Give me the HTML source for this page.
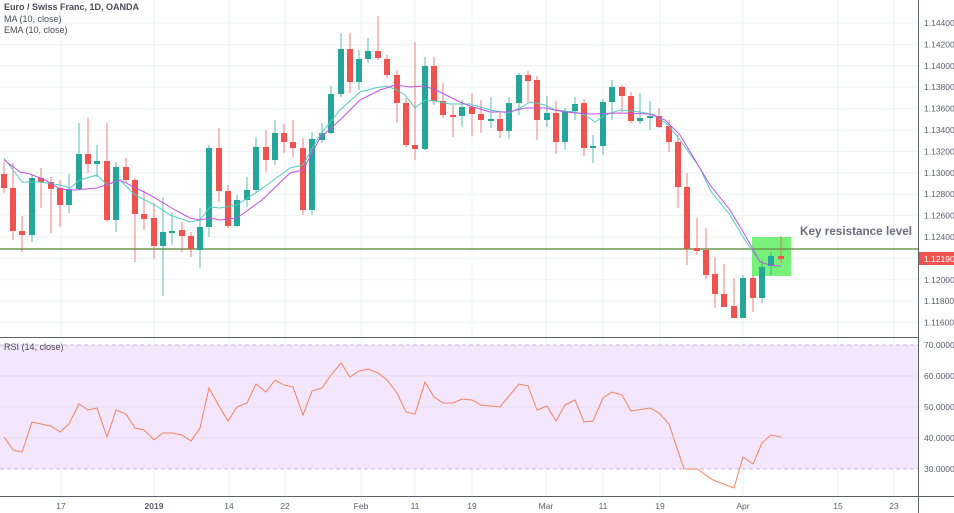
<!DOCTYPE html>
<html><head><meta charset="utf-8"><style>
body{margin:0;background:#fff;}
svg{display:block;font-family:"Liberation Sans",sans-serif;}
.g line{stroke:#26a69a;stroke-opacity:.75}.g rect{fill:#26a69a}
.r line{stroke:#ef5350;stroke-opacity:.75}.r rect{fill:#ef5350}
</style></head><body>
<svg width="954" height="513" viewBox="0 0 954 513" xmlns="http://www.w3.org/2000/svg">
<rect width="954" height="513" fill="#fff"/>
<g stroke="#eef1f6" stroke-width="1">
<line x1="0" y1="23" x2="918" y2="23"/><line x1="0" y1="44.4" x2="918" y2="44.4"/><line x1="0" y1="65.8" x2="918" y2="65.8"/><line x1="0" y1="87.2" x2="918" y2="87.2"/><line x1="0" y1="108.6" x2="918" y2="108.6"/><line x1="0" y1="130" x2="918" y2="130"/><line x1="0" y1="151.4" x2="918" y2="151.4"/><line x1="0" y1="172.8" x2="918" y2="172.8"/><line x1="0" y1="194.2" x2="918" y2="194.2"/><line x1="0" y1="215.6" x2="918" y2="215.6"/><line x1="0" y1="237" x2="918" y2="237"/><line x1="0" y1="258.4" x2="918" y2="258.4"/><line x1="0" y1="279.8" x2="918" y2="279.8"/><line x1="0" y1="301.2" x2="918" y2="301.2"/><line x1="0" y1="322.6" x2="918" y2="322.6"/>
<line x1="61" y1="0" x2="61" y2="496"/><line x1="154" y1="0" x2="154" y2="496"/><line x1="229" y1="0" x2="229" y2="496"/><line x1="285" y1="0" x2="285" y2="496"/><line x1="361" y1="0" x2="361" y2="496"/><line x1="415" y1="0" x2="415" y2="496"/><line x1="472" y1="0" x2="472" y2="496"/><line x1="546" y1="0" x2="546" y2="496"/><line x1="603" y1="0" x2="603" y2="496"/><line x1="660" y1="0" x2="660" y2="496"/><line x1="743" y1="0" x2="743" y2="496"/><line x1="838" y1="0" x2="838" y2="496"/><line x1="894" y1="0" x2="894" y2="496"/>
</g>
<rect x="0" y="345" width="918" height="124" fill="#f3e6fd"/>
<g stroke="#e8dcf0"><line x1="0" y1="376" x2="918" y2="376"/><line x1="0" y1="407" x2="918" y2="407"/><line x1="0" y1="438" x2="918" y2="438"/></g>
<line x1="0" y1="345" x2="918" y2="345" stroke="#c9b8d6" stroke-dasharray="4,3"/>
<line x1="0" y1="469" x2="918" y2="469" stroke="#c9b8d6" stroke-dasharray="4,3"/>
<rect x="752" y="237" width="39" height="39" fill="#5fef5f" opacity="0.85"/>
<line x1="0" y1="249" x2="918" y2="249" stroke="#6b9a4e" stroke-width="1.5"/>

<g class="r"><line x1="4" y1="162" x2="4" y2="193"/><rect x="1" y="174" width="6" height="14"/></g>
<g class="r"><line x1="13" y1="163" x2="13" y2="240"/><rect x="10" y="188" width="6" height="43"/></g>
<g class="r"><line x1="22" y1="216" x2="22" y2="252"/><rect x="19" y="231" width="6" height="4"/></g>
<g class="g"><line x1="32" y1="175" x2="32" y2="242"/><rect x="29" y="178" width="6" height="57"/></g>
<g class="r"><line x1="41" y1="168" x2="41" y2="208"/><rect x="38" y="178" width="6" height="4"/></g>
<g class="r"><line x1="51" y1="177" x2="51" y2="233"/><rect x="48" y="182" width="6" height="7"/></g>
<g class="r"><line x1="60" y1="180" x2="60" y2="227"/><rect x="57" y="188" width="6" height="17"/></g>
<g class="g"><line x1="69" y1="174" x2="69" y2="213"/><rect x="66" y="189" width="6" height="16"/></g>
<g class="g"><line x1="79" y1="123" x2="79" y2="190"/><rect x="76" y="154" width="6" height="35"/></g>
<g class="r"><line x1="88" y1="118" x2="88" y2="173"/><rect x="85" y="154" width="6" height="10"/></g>
<g class="g"><line x1="97" y1="145" x2="97" y2="177"/><rect x="94" y="161" width="6" height="3"/></g>
<g class="r"><line x1="107" y1="123" x2="107" y2="222"/><rect x="104" y="161" width="6" height="59"/></g>
<g class="g"><line x1="116" y1="162" x2="116" y2="232"/><rect x="113" y="167" width="6" height="53"/></g>
<g class="r"><line x1="126" y1="158" x2="126" y2="183"/><rect x="123" y="167" width="6" height="13"/></g>
<g class="r"><line x1="135" y1="178" x2="135" y2="262"/><rect x="132" y="180" width="6" height="34"/></g>
<g class="r"><line x1="144" y1="190" x2="144" y2="230"/><rect x="141" y="214" width="6" height="5"/></g>
<g class="r"><line x1="154" y1="203" x2="154" y2="259"/><rect x="151" y="218" width="6" height="28"/></g>
<g class="g"><line x1="163" y1="197" x2="163" y2="296"/><rect x="160" y="232" width="6" height="14"/></g>
<g class="g"><line x1="172" y1="212" x2="172" y2="245"/><rect x="169" y="231" width="6" height="2"/></g>
<g class="r"><line x1="182" y1="222" x2="182" y2="252"/><rect x="179" y="230" width="6" height="6"/></g>
<g class="r"><line x1="191" y1="232" x2="191" y2="257"/><rect x="188" y="236" width="6" height="13"/></g>
<g class="g"><line x1="200" y1="208" x2="200" y2="268"/><rect x="197" y="227" width="6" height="23"/></g>
<g class="g"><line x1="209" y1="145" x2="209" y2="237"/><rect x="206" y="148" width="6" height="79"/></g>
<g class="r"><line x1="219" y1="128" x2="219" y2="202"/><rect x="216" y="148" width="6" height="43"/></g>
<g class="r"><line x1="228" y1="185" x2="228" y2="228"/><rect x="225" y="191" width="6" height="35"/></g>
<g class="g"><line x1="237" y1="195" x2="237" y2="227"/><rect x="234" y="200" width="6" height="26"/></g>
<g class="g"><line x1="247" y1="177" x2="247" y2="207"/><rect x="244" y="190" width="6" height="10"/></g>
<g class="g"><line x1="256" y1="137" x2="256" y2="192"/><rect x="253" y="147" width="6" height="43"/></g>
<g class="r"><line x1="266" y1="130" x2="266" y2="172"/><rect x="263" y="147" width="6" height="13"/></g>
<g class="g"><line x1="275" y1="120" x2="275" y2="165"/><rect x="272" y="133" width="6" height="27"/></g>
<g class="r"><line x1="284" y1="124" x2="284" y2="153"/><rect x="281" y="133" width="6" height="9"/></g>
<g class="r"><line x1="293" y1="120" x2="293" y2="157"/><rect x="290" y="142" width="6" height="6"/></g>
<g class="r"><line x1="303" y1="138" x2="303" y2="215"/><rect x="300" y="148" width="6" height="62"/></g>
<g class="g"><line x1="312" y1="132" x2="312" y2="215"/><rect x="309" y="139" width="6" height="71"/></g>
<g class="g"><line x1="322" y1="123" x2="322" y2="143"/><rect x="319" y="133" width="6" height="7"/></g>
<g class="g"><line x1="331" y1="86" x2="331" y2="134"/><rect x="328" y="94" width="6" height="39"/></g>
<g class="g"><line x1="341" y1="33" x2="341" y2="97"/><rect x="338" y="49" width="6" height="45"/></g>
<g class="r"><line x1="350" y1="33" x2="350" y2="93"/><rect x="347" y="49" width="6" height="33"/></g>
<g class="g"><line x1="359" y1="50" x2="359" y2="90"/><rect x="356" y="59" width="6" height="23"/></g>
<g class="g"><line x1="368" y1="38" x2="368" y2="63"/><rect x="365" y="51" width="6" height="8"/></g>
<g class="r"><line x1="378" y1="16" x2="378" y2="60"/><rect x="375" y="51" width="6" height="7"/></g>
<g class="r"><line x1="387" y1="55" x2="387" y2="78"/><rect x="384" y="59" width="6" height="16"/></g>
<g class="r"><line x1="397" y1="70" x2="397" y2="123"/><rect x="394" y="75" width="6" height="28"/></g>
<g class="r"><line x1="406" y1="98" x2="406" y2="147"/><rect x="403" y="103" width="6" height="42"/></g>
<g class="r"><line x1="415" y1="42" x2="415" y2="160"/><rect x="412" y="145" width="6" height="4"/></g>
<g class="g"><line x1="425" y1="57" x2="425" y2="150"/><rect x="422" y="66" width="6" height="83"/></g>
<g class="r"><line x1="434" y1="57" x2="434" y2="105"/><rect x="431" y="66" width="6" height="35"/></g>
<g class="r"><line x1="443" y1="83" x2="443" y2="118"/><rect x="440" y="101" width="6" height="14"/></g>
<g class="r"><line x1="453" y1="105" x2="453" y2="137"/><rect x="450" y="115" width="6" height="2"/></g>
<g class="g"><line x1="462" y1="100" x2="462" y2="127"/><rect x="459" y="107" width="6" height="9"/></g>
<g class="r"><line x1="472" y1="93" x2="472" y2="136"/><rect x="469" y="107" width="6" height="7"/></g>
<g class="r"><line x1="481" y1="100" x2="481" y2="133"/><rect x="478" y="114" width="6" height="6"/></g>
<g class="g"><line x1="491" y1="97" x2="491" y2="128"/><rect x="488" y="119" width="6" height="2"/></g>
<g class="r"><line x1="500" y1="113" x2="500" y2="138"/><rect x="497" y="119" width="6" height="12"/></g>
<g class="g"><line x1="509" y1="97" x2="509" y2="139"/><rect x="506" y="103" width="6" height="28"/></g>
<g class="g"><line x1="519" y1="73" x2="519" y2="115"/><rect x="516" y="75" width="6" height="28"/></g>
<g class="r"><line x1="528" y1="71" x2="528" y2="102"/><rect x="525" y="75" width="6" height="6"/></g>
<g class="r"><line x1="537" y1="76" x2="537" y2="140"/><rect x="534" y="80" width="6" height="40"/></g>
<g class="g"><line x1="547" y1="96" x2="547" y2="127"/><rect x="544" y="113" width="6" height="7"/></g>
<g class="r"><line x1="556" y1="101" x2="556" y2="154"/><rect x="553" y="113" width="6" height="29"/></g>
<g class="g"><line x1="565" y1="108" x2="565" y2="150"/><rect x="562" y="111" width="6" height="31"/></g>
<g class="g"><line x1="575" y1="97" x2="575" y2="120"/><rect x="572" y="104" width="6" height="7"/></g>
<g class="r"><line x1="584" y1="99" x2="584" y2="156"/><rect x="581" y="103" width="6" height="45"/></g>
<g class="g"><line x1="593" y1="135" x2="593" y2="163"/><rect x="590" y="146" width="6" height="2"/></g>
<g class="g"><line x1="603" y1="99" x2="603" y2="155"/><rect x="600" y="102" width="6" height="44"/></g>
<g class="g"><line x1="612" y1="80" x2="612" y2="120"/><rect x="609" y="87" width="6" height="15"/></g>
<g class="r"><line x1="622" y1="85" x2="622" y2="112"/><rect x="619" y="87" width="6" height="9"/></g>
<g class="r"><line x1="631" y1="92" x2="631" y2="123"/><rect x="628" y="96" width="6" height="25"/></g>
<g class="g"><line x1="640" y1="93" x2="640" y2="124"/><rect x="637" y="118" width="6" height="3"/></g>
<g class="g"><line x1="650" y1="101" x2="650" y2="130"/><rect x="647" y="116" width="6" height="2"/></g>
<g class="r"><line x1="659" y1="108" x2="659" y2="128"/><rect x="656" y="116" width="6" height="11"/></g>
<g class="r"><line x1="669" y1="120" x2="669" y2="152"/><rect x="666" y="126" width="6" height="16"/></g>
<g class="r"><line x1="678" y1="135" x2="678" y2="208"/><rect x="675" y="142" width="6" height="45"/></g>
<g class="r"><line x1="687" y1="173" x2="687" y2="265"/><rect x="684" y="187" width="6" height="62"/></g>
<g class="r"><line x1="697" y1="218" x2="697" y2="255"/><rect x="694" y="248" width="6" height="3"/></g>
<g class="r"><line x1="706" y1="228" x2="706" y2="279"/><rect x="703" y="250" width="6" height="25"/></g>
<g class="r"><line x1="715" y1="257" x2="715" y2="308"/><rect x="712" y="274" width="6" height="20"/></g>
<g class="r"><line x1="724" y1="264" x2="724" y2="307"/><rect x="721" y="294" width="6" height="13"/></g>
<g class="r"><line x1="734" y1="278" x2="734" y2="318"/><rect x="731" y="306" width="6" height="12"/></g>
<g class="g"><line x1="743" y1="275" x2="743" y2="318"/><rect x="740" y="278" width="6" height="40"/></g>
<g class="r"><line x1="753" y1="275" x2="753" y2="312"/><rect x="750" y="278" width="6" height="20"/></g>
<g class="g"><line x1="762" y1="260" x2="762" y2="303"/><rect x="759" y="267" width="6" height="31"/></g>
<g class="g"><line x1="771" y1="252" x2="771" y2="275"/><rect x="768" y="256" width="6" height="10"/></g>
<g class="r"><line x1="781" y1="236" x2="781" y2="263"/><rect x="778" y="256" width="6" height="3"/></g>

<polyline fill="none" stroke="#4ecfbf" stroke-width="1" points="4,158 22,182 40,182 60,185 70,188 80,180 97,175 107,185 120,180 135,195 155,205 170,215 190,222 200,220 210,207 220,208 237,205 260,190 290,168 303,165 320,135 340,110 360,92 375,88 387,86 397,90 405,95 415,108 425,100 435,101 450,104 470,104 490,110 509,113 520,108 530,102 545,105 555,110 575,112 585,115 595,122 605,115 620,110 640,112 655,115 668,125 680,140 700,168 710,190 730,215 745,240 760,262"/>
<polyline fill="none" stroke="#c050e8" stroke-width="1" points="4,160 20,172 30,174 45,180 60,189 75,190 97,188 120,180 130,185 150,195 175,210 190,218 200,220 210,218 220,220 237,218 262,200 290,173 303,170 320,138 340,120 360,100 380,90 395,85 410,87 425,86 440,92 460,102 470,106 490,112 509,112 525,108 545,108 565,112 590,114 620,113 650,114 665,120 680,135 695,160 710,185 730,210 745,235 760,262 770,265 781,266"/>
<polyline fill="none" stroke="#f4845f" stroke-width="1" points="4,437 13,450 22,452 32,422 41,424 51,426 60,432 69,424 79,404 88,410 97,408 107,437 116,410 126,414 135,428 144,430 154,440 163,433 172,433 182,435 191,441 200,428 209,388 219,406 228,421 237,407 247,403 256,384 266,392 275,380 284,385 293,387 303,415 312,391 322,388 331,375 341,363 350,377 359,371 368,369 378,373 387,380 397,393 406,412 415,414 425,382 434,397 443,403 453,403 462,399 472,400 481,405 491,406 500,407 509,396 519,384 528,386 537,410 547,406 556,421 565,405 575,400 584,422 593,421 603,398 612,392 622,395 631,411 650,408 659,413 669,424 684,469 697,469 713,480 734,488 743,457 753,464 762,443 771,435 781,437"/>
<line x1="0" y1="337.5" x2="918" y2="337.5" stroke="#5d606b" stroke-width="1"/>
<line x1="0" y1="496.5" x2="954" y2="496.5" stroke="#5d606b" stroke-width="1"/>
<line x1="918.5" y1="0" x2="918.5" y2="513" stroke="#5d606b" stroke-width="1"/>
<g font-size="9" fill="#4a4a55">
<text x="4" y="10" font-weight="bold">Euro / Swiss Franc, 1D, OANDA</text>
<text x="4" y="22">MA (10, close)</text>
<text x="4" y="33">EMA (10, close)</text>
<text x="4" y="350">RSI (14, close)</text>
</g>
<text x="800" y="235" font-size="11.5" font-weight="bold" fill="#6a6e7a" textLength="112" lengthAdjust="spacingAndGlyphs">Key resistance level</text>
<g font-size="8.5" fill="#5d606b">
<text x="924" y="26">1.14400</text><text x="924" y="47.4">1.14200</text><text x="924" y="68.8">1.14000</text><text x="924" y="90.2">1.13800</text><text x="924" y="111.6">1.13600</text><text x="924" y="133">1.13400</text><text x="924" y="154.4">1.13200</text><text x="924" y="175.8">1.13000</text><text x="924" y="197.2">1.12800</text><text x="924" y="218.6">1.12600</text><text x="924" y="240">1.12400</text><text x="924" y="282.8">1.12000</text><text x="924" y="304.2">1.11800</text><text x="924" y="325.6">1.11600</text>
<text x="924" y="348">70.0000</text><text x="924" y="379">60.0000</text><text x="924" y="410">50.0000</text><text x="924" y="441">40.0000</text><text x="924" y="472">30.0000</text>
</g>
<rect x="919" y="252" width="35" height="13" fill="#ef5350"/>
<text x="924" y="262" font-size="8.5" fill="#fff">1.12190</text>
<g font-size="8.5" fill="#5d606b" text-anchor="middle">
<text x="61" y="509">17</text><text x="154" y="509" font-weight="bold">2019</text><text x="229" y="509">14</text><text x="285" y="509">22</text><text x="361" y="509">Feb</text><text x="415" y="509">11</text><text x="472" y="509">19</text><text x="546" y="509">Mar</text><text x="603" y="509">11</text><text x="660" y="509">19</text><text x="743" y="509">Apr</text><text x="838" y="509">15</text><text x="894" y="509">23</text>
</g>
</svg>
</body></html>
